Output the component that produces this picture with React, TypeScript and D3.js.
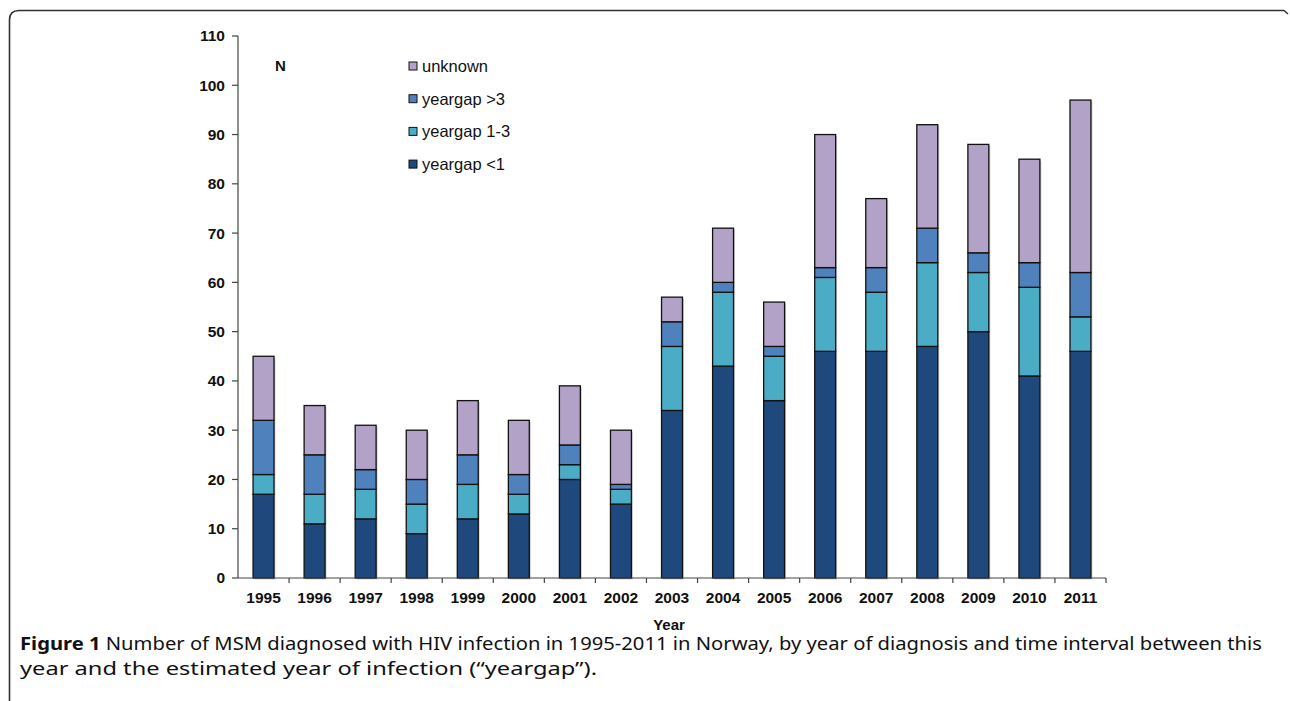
import React from "react";
import * as d3 from "d3";

const years = ["1995", "1996", "1997", "1998", "1999", "2000", "2001", "2002", "2003", "2004", "2005", "2006", "2007", "2008", "2009", "2010", "2011"];
const gapLt1 = [17, 11, 12, 9, 12, 13, 20, 15, 34, 43, 36, 46, 46, 47, 50, 41, 46];
const gap1to3 = [4, 6, 6, 6, 7, 4, 3, 3, 13, 15, 9, 15, 12, 17, 12, 18, 7];
const gapGt3 = [11, 8, 4, 5, 6, 4, 4, 1, 5, 2, 2, 2, 5, 7, 4, 5, 9];
const unknown = [13, 10, 9, 10, 11, 11, 12, 11, 5, 11, 9, 27, 14, 21, 22, 21, 35];
const yTicks = [0, 10, 20, 30, 40, 50, 60, 70, 80, 90, 100, 110];

const seriesKeys = ["lt1", "g13", "gt3", "unk"];
const seriesNames: Record<string, string> = {
  lt1: "yeargap <1",
  g13: "yeargap 1-3",
  gt3: "yeargap >3",
  unk: "unknown",
};
const colors: Record<string, string> = {
  lt1: "#1f497d",
  g13: "#4bacc6",
  gt3: "#4f81bd",
  unk: "#b3a2c7",
};

const App = () => {
  const width = 1290;
  const height = 701;
  const left = 238;
  const right = 1106;
  const top = 36;
  const bottom = 578;

  const rows = years.map((y, i) => ({
    year: y,
    lt1: gapLt1[i],
    g13: gap1to3[i],
    gt3: gapGt3[i],
    unk: unknown[i],
  }));
  const stacked = d3.stack<any>().keys(seriesKeys)(rows);

  const x = d3.scaleBand().domain(years).range([left, right]).paddingInner(0.59).paddingOuter(0.295);
  const band = d3.scaleBand().domain(years).range([left, right]);
  const y = d3.scaleLinear().domain([0, 110]).range([bottom, top]);

  const legendOrder = ["unk", "gt3", "g13", "lt1"];
  const font = "'Liberation Sans', Arial, sans-serif";
  const capFont = "'Noto Sans', sans-serif";

  return (
    <svg width={width} height={height} style={{ position: "absolute", left: 0, top: 0 }}>
      <rect width={width} height={height} fill="#fff" />
      {/* frame */}
      <path
        d={`M9.5,${height} L9.5,20 Q9.5,10.5 19,10.5 L1284,10.5 L1288,14`}
        fill="none"
        stroke="#333"
        strokeWidth={1.6}
      />

      {/* bar shadows */}
      {stacked.map((s) => (
        <g key={s.key}>
          {s.map((d, i) => (
            <rect
              key={i}
              x={x(years[i])! + 1.5}
              y={y(d[1]) + 1.5}
              width={x.bandwidth()}
              height={y(d[0]) - y(d[1])}
              fill="#d0d0d0"
            />
          ))}
        </g>
      ))}
      {/* bars */}
      {stacked.map((s) => (
        <g key={s.key + "b"}>
          {s.map((d, i) => (
            <rect
              key={i}
              x={x(years[i])}
              y={y(d[1])}
              width={x.bandwidth()}
              height={y(d[0]) - y(d[1])}
              fill={colors[s.key]}
              stroke="#111"
              strokeWidth={1.3}
            />
          ))}
        </g>
      ))}

      {/* y axis */}
      <line x1={left} x2={left} y1={top} y2={bottom} stroke="#444" strokeWidth={1.2} />
      {yTicks.map((t) => (
        <g key={t}>
          <line x1={left - 6} x2={left} y1={y(t)} y2={y(t)} stroke="#444" strokeWidth={1.2} />
          <text x={225} y={y(t)} dy="0.35em" textAnchor="end" fontFamily={font} fontWeight="bold" fontSize={15.5} fill="#111">
            {t}
          </text>
        </g>
      ))}

      {/* x axis */}
      <line x1={left} x2={right} y1={bottom} y2={bottom} stroke="#444" strokeWidth={1.2} />
      {years.map((yr) => (
        <g key={yr}>
          <line x1={band(yr)! + band.bandwidth()} x2={band(yr)! + band.bandwidth()} y1={bottom} y2={bottom + 5} stroke="#444" strokeWidth={1.2} />
          <text x={band(yr)! + band.bandwidth() / 2} y={bottom + 25} textAnchor="middle" fontFamily={font} fontWeight="bold" fontSize={15.5} fill="#111">
            {yr}
          </text>
        </g>
      ))}
      <text x={669} y={630} textAnchor="middle" fontFamily={font} fontWeight="bold" fontSize={15} fill="#111">
        Year
      </text>
      <text x={275} y={71} fontFamily={font} fontWeight="bold" fontSize={15} fill="#111">
        N
      </text>

      {/* legend */}
      {legendOrder.map((k, i) => (
        <g key={k} transform={`translate(409, ${66 + i * 32.7})`}>
          <rect x={0} y={-4} width={8} height={8} fill={colors[k]} stroke="#111" strokeWidth={1} />
          <text x={13} y={0} dy="0.36em" fontFamily={font} fontSize={16.5} fill="#111">
            {seriesNames[k]}
          </text>
        </g>
      ))}

      {/* caption */}
      <text x={20} y={650} fontFamily={capFont} fontSize={17.5} fill="#111" textLength={1242} lengthAdjust="spacingAndGlyphs">
        <tspan fontWeight="bold">Figure 1</tspan> Number of MSM diagnosed with HIV infection in 1995-2011 in Norway, by year of diagnosis and time interval between this
      </text>
      <text x={20} y={675} fontFamily={capFont} fontSize={17.5} fill="#111" textLength={577} lengthAdjust="spacingAndGlyphs">
        year and the estimated year of infection (“yeargap”).
      </text>
    </svg>
  );
};

export default App;
